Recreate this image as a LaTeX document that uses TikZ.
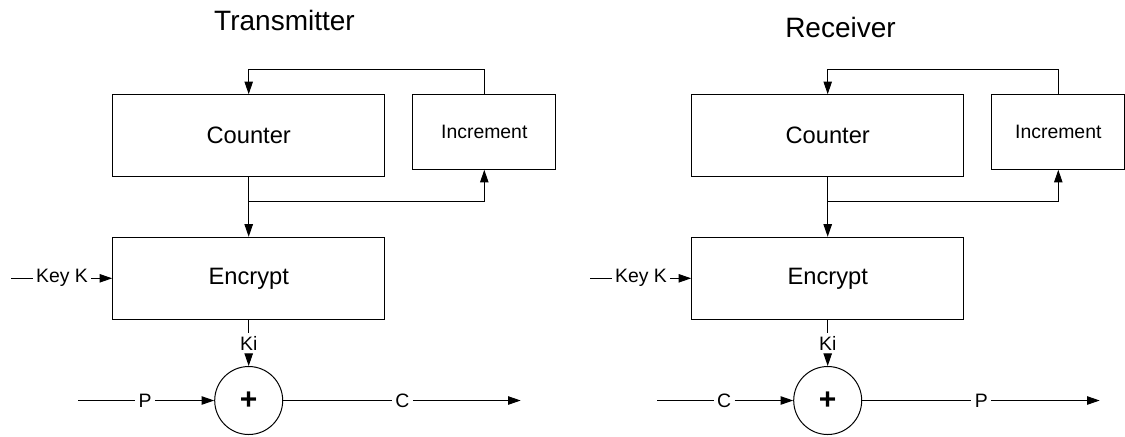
\documentclass[tikz,border=0pt]{standalone}
\usepackage{fontspec}
\setmainfont{Liberation Sans}
\usetikzlibrary{arrows.meta}

\begin{document}
\begin{tikzpicture}[x=0.5pt, y=-0.5pt, line width=0.5pt,
	every node/.style={font=\fontsize{9.7}{11}\selectfont, inner sep=1.5pt},
	block/.style={draw, minimum width=136pt, minimum height=41pt, font=\fontsize{11.85}{14}\selectfont},
	incbox/.style={draw, minimum height=37.3pt, anchor=west},
	xorbox/.style={draw, circle, minimum size=34pt, inner sep=0pt, font=\fontsize{15}{15}\selectfont\bfseries},
	>={Triangle[length=6.3pt, width=4.2pt]}]
	\useasboundingbox (0,0) rectangle (1125,436);
	\foreach \dx/\side/\ttl/\tx/\ty/\inp/\outp/\iw in {0/t/Transmitter/284.5/20/P/C/71.5pt, 579/r/Receiver/840.5/27/C/P/66.5pt} {
		\node[font=\fontsize{14}{16}\selectfont] (title\side) at (\tx,\ty) {\ttl};
		\node[block] (ctr\side) at (248.7+\dx,135.7) {Counter};
		\node[incbox, minimum width=\iw] (inc\side) at (412.3+\dx,132) {Increment};
		\node[block] (enc\side) at (248.7+\dx,278.3) {Encrypt};
		\node[xorbox] (xor\side) at (248.7+\dx,400.5) {+};
		\coordinate (fb\side) at (\dx,69.3);
		\coordinate (br\side) at (\dx,201.7);
		\draw[->] (inc\side.north) |- (fb\side -| ctr\side.north) -- (ctr\side.north);
		\draw[->] (ctr\side.south) -- (enc\side.north);
		\draw[->] (br\side -| ctr\side.south) -| (inc\side.south);
		\coordinate (kin\side) at (11+\dx,278.3);
		\node (key\side) at (62+\dx,278.3) {Key K};
		\draw (kin\side) -- (key\side);
		\draw[->] (key\side) -- (enc\side.west);
		\node (ki\side) at (248.7+\dx,343.3) {Ki};
		\draw (enc\side.south) -- (ki\side.north);
		\draw[->] (ki\side.south) -- (xor\side.north);
		\coordinate (in\side) at (78.3+\dx,400.5);
		\node (inl\side) at (145+\dx,400.5) {\inp};
		\draw (in\side) -- (inl\side);
		\draw[->] (inl\side) -- (xor\side.west);
		\node (outl\side) at (402.3+\dx,400.5) {\outp};
		\coordinate (out\side) at (520.7+\dx,400.5);
		\draw (xor\side.east) -- (outl\side);
		\draw[->] (outl\side) -- (out\side);
	}
\end{tikzpicture}
\end{document}
